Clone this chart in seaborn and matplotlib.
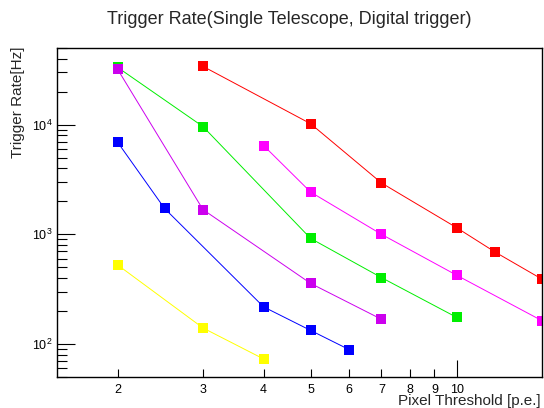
import matplotlib
matplotlib.use("Agg")
import matplotlib.pyplot as plt
from matplotlib.ticker import FixedLocator, FixedFormatter, NullFormatter
import numpy as np
import pandas as pd
import seaborn as sns

# ── Data ──────────────────────────────────────────────────────────────────────
red_x     = [3, 5, 7, 10, 12, 15]
red_y     = [34000, 10200, 2940, 1150, 690, 390]
pink_x    = [4, 5, 7, 10, 15]
pink_y    = [6450, 2430, 1000, 424, 163]
green_x   = [2, 3, 5, 7, 10]
green_y   = [33300, 9600, 918, 403, 175]
purple_x  = [2, 3, 5, 7]
purple_y  = [32000, 1680, 357, 168]
blue_x    = [2, 2.5, 4, 5, 6]
blue_y    = [6920, 1720, 218, 133, 89]
yellow_x  = [2, 3, 4]
yellow_y  = [526, 140, 73]

series = {
    "red":    (red_x, red_y),
    "pink":   (pink_x, pink_y),
    "green":  (green_x, green_y),
    "purple": (purple_x, purple_y),
    "blue":   (blue_x, blue_y),
    "yellow": (yellow_x, yellow_y),
}
palette = {
    "red": "#ff0000", "pink": "#ff00ff", "green": "#00ee00",
    "purple": "#cc00ee", "blue": "#0000ff", "yellow": "#ffff00",
}

x_ticks  = [2, 3, 4, 5, 6, 7, 8, 9]
y_major  = [1e2, 1e3, 1e4]
y_labels = [r"$10^{2}$", r"$10^{3}$", r"$10^{4}$"]

df = pd.concat(
    [pd.DataFrame({"threshold": xs, "rate": ys, "series": name})
     for name, (xs, ys) in series.items()],
    ignore_index=True,
)

# ── Plot ──────────────────────────────────────────────────────────────────────
sns.set_style("white")
plt.rcParams["font.family"] = ["Liberation Sans", "DejaVu Sans"]
plt.rcParams["mathtext.fontset"] = "custom"
plt.rcParams["mathtext.rm"] = "Liberation Sans"
plt.rcParams["mathtext.it"] = "Liberation Sans"

fig = plt.figure(figsize=(5.44, 4.08), dpi=100)
ax = fig.add_axes([57 / 544, 31 / 408, 485 / 544, 329 / 408])

for name in series:
    sns.lineplot(
        data=df[df["series"] == name], x="threshold", y="rate",
        color=palette[name], marker="s", markersize=6.5,
        markeredgewidth=0, linewidth=0.7, ax=ax, legend=False,
    )

ax.set_xscale("log")
ax.set_yscale("log")
ax.set_xlim(1.5, 15)
ax.set_ylim(50, 50000)

ax.xaxis.set_major_locator(FixedLocator([10]))
ax.xaxis.set_major_formatter(FixedFormatter(["10"]))
ax.xaxis.set_minor_locator(FixedLocator(x_ticks))
ax.xaxis.set_minor_formatter(FixedFormatter([str(t) for t in x_ticks]))
ax.tick_params(axis="x", which="both", bottom=True, top=False, direction="in",
               width=0.8, labelsize=9, pad=5, colors="black")
ax.tick_params(axis="x", which="major", length=12)
ax.tick_params(axis="x", which="minor", length=6)

ax.yaxis.set_major_locator(FixedLocator(y_major))
ax.yaxis.set_major_formatter(FixedFormatter(y_labels))
y_minor = [m * d for d in (1e1, 1e2, 1e3, 1e4) for m in range(2, 10)]
ax.yaxis.set_minor_locator(FixedLocator(y_minor))
ax.yaxis.set_minor_formatter(NullFormatter())
ax.tick_params(axis="y", which="both", left=True, right=False, direction="in",
               width=0.8, labelsize=9, pad=3, colors="black")
ax.tick_params(axis="y", which="major", length=13)
ax.tick_params(axis="y", which="minor", length=7)

for sp in ax.spines.values():
    sp.set_linewidth(1.0)
    sp.set_color("black")

ax.set_xlabel("")
ax.set_ylabel("")
fig.text(541 / 544, 1 - 401 / 408, "Pixel Threshold [p.e.]", ha="right",
         va="center", fontsize=11)
fig.text(18 / 544, 1 - 47 / 408, "Trigger Rate[Hz]", ha="center", va="top",
         rotation=90, fontsize=11)
fig.text(289 / 544, 1 - 20 / 408, "Trigger Rate(Single Telescope, Digital trigger)",
         ha="center", va="center", fontsize=13)

fig.savefig("out.png", dpi=100)
